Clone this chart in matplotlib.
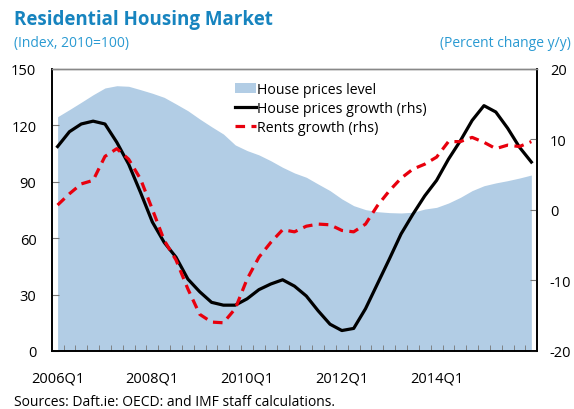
import numpy as np
import matplotlib.pyplot as plt

plt.rcParams['font.family'] = ['Open Sans', 'DejaVu Sans']
plt.rcParams['axes.unicode_minus'] = False

# quarterly data, 2006Q1 .. 2016Q1
quarters = [f'{y}Q{q}' for y in range(2006, 2017) for q in range(1, 5)][:41]

price_level = [124.6, 128.4, 132.3, 136.3, 139.9, 141.1, 140.8, 139.0, 137.1, 134.9,
               131.4, 127.8, 123.4, 119.3, 115.4, 109.6, 106.6, 104.3, 101.2, 97.7,
               94.7, 92.4, 88.8, 85.3, 80.9, 77.3, 75.2, 74.1, 73.6, 73.4,
               73.8, 75.5, 76.4, 78.7, 81.7, 85.3, 87.9, 89.4, 90.6, 92.0, 93.6]

price_growth = [9.0, 11.1, 12.2, 12.6, 12.2, 9.6, 6.5, 2.5, -1.7, -4.6,
                -6.7, -9.8, -11.6, -13.1, -13.5, -13.5, -12.6, -11.3, -10.5, -9.9,
                -10.8, -12.2, -14.3, -16.2, -17.1, -16.8, -14.0, -10.5, -7.0, -3.4,
                -0.6, 2.0, 4.2, 7.2, 9.8, 12.7, 14.8, 13.9, 11.6, 8.9, 6.8]

rents_growth = [0.7, 2.3, 3.7, 4.2, 7.6, 8.7, 7.2, 4.4, 0.1, -4.3,
                -7.1, -11.2, -14.8, -15.9, -16.0, -14.0, -9.8, -6.7, -4.6, -2.8,
                -3.1, -2.3, -2.0, -2.1, -2.9, -3.1, -2.0, 0.6, 2.7, 4.5,
                5.8, 6.5, 7.5, 9.7, 9.7, 10.3, 9.6, 8.7, 9.2, 9.0, 9.7]

label_idx = [0, 8, 16, 24, 32]

title_blue = '#1784bf'
sub_blue = '#2a9ad2'

x = np.arange(len(quarters))

fig = plt.figure(figsize=(5.74, 4.10), dpi=100)
ax = fig.add_axes([0.090, 0.1415, 0.846, 0.6878])
ax2 = ax.twinx()

ax.fill_between(x, price_level, 0, color='#b2cde5', lw=0, label='House prices level')
ax2.plot(x, price_growth, color='black', lw=2.3, label='House prices growth (rhs)')
ax2.plot(x, rents_growth, color='#e8000d', lw=2.3, ls=(0, (3, 2)),
         label='Rents growth (rhs)')

ax.set_xlim(-0.5, len(quarters) - 0.5)
ax.set_ylim(0, 150)
ax2.set_ylim(-20, 20)
ax.set_yticks(range(0, 151, 30))
ax2.set_yticks(range(-20, 21, 10))

ax.set_xticks(label_idx)
ax.set_xticklabels([quarters[i] for i in label_idx])
ax.set_xticks(np.arange(0.5, len(quarters) - 1, 1), minor=True)
ax.tick_params(axis='x', which='major', length=0, pad=14, labelsize=10.5)
ax.tick_params(axis='x', which='minor', direction='in', length=4, color='#777777')
ax.tick_params(axis='y', direction='in', length=5, color='#777777', pad=11, labelsize=10.5)
ax2.tick_params(axis='y', direction='in', length=5, color='#777777', pad=9, labelsize=10.5)

for a in (ax, ax2):
    a.spines['top'].set_color('#888888')
    a.spines['top'].set_linewidth(1.0)
    for s in ('left', 'right', 'bottom'):
        a.spines[s].set_color('black')
        a.spines[s].set_linewidth(1.2)

h1, l1 = ax.get_legend_handles_labels()
h2, l2 = ax2.get_legend_handles_labels()
ax2.legend(h1 + h2, l1 + l2, loc='upper left', bbox_to_anchor=(0.352, 1.0),
           frameon=False, fontsize=10.2, handlelength=1.45, handletextpad=0.1,
           labelspacing=0.3, borderpad=0.4)

fig.text(0.024, 0.95, 'Residential Housing Market', fontsize=13.5, fontweight='bold',
         color=title_blue, va='center')
fig.text(0.024, 0.893, '(Index, 2010=100)', fontsize=10, color=sub_blue, va='center')
fig.text(0.995, 0.893, '(Percent change y/y)', fontsize=10, color=sub_blue,
         va='center', ha='right')
fig.text(0.024, 0.018, 'Sources: Daft.ie: OECD: and IMF staff calculations.',
         fontsize=10, va='center')

fig.savefig('out.png', dpi=100)
